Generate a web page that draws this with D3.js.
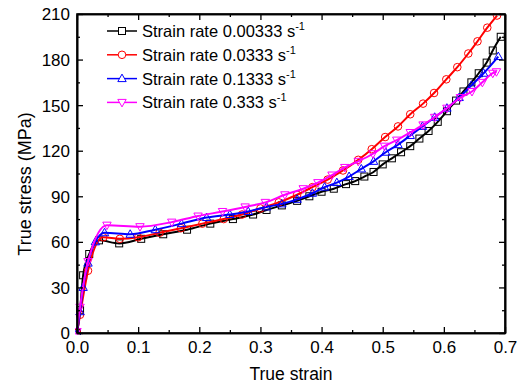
<!DOCTYPE html>
<html>
<head>
<meta charset="utf-8">
<script src="https://cdn.jsdelivr.net/npm/d3@7"></script>
<style>
  body { margin: 0; background: #fff; }
  svg text { font-family: "Liberation Sans", Arial, sans-serif; }
</style>
</head>
<body>
<div id="chart"></div>
<script>
// strain / stress pairs, one array per strain rate
var black = [[0,0],[0.005,15],[0.010,38],[0.02,52],[0.036,61],[0.069,59],[0.105,62],[0.141,65],[0.18,68],
  [0.218,72],[0.255,75],[0.288,78],[0.31,81],[0.335,84],[0.36,87],[0.38,90],[0.40,93],[0.42,95],[0.44,98],
  [0.455,100],[0.47,103],[0.485,106],[0.50,111],[0.515,115],[0.53,119],[0.545,123],[0.56,128],[0.575,133],
  [0.59,139],[0.605,146],[0.62,153],[0.632,159],[0.645,165],[0.657,171],[0.67,178],[0.68,186],[0.693,195]];
var red = [[0,0],[0.005,12],[0.018,41],[0.043,63],[0.07,62],[0.1,63],[0.135,66],[0.17,69],[0.205,72],
  [0.24,75],[0.27,78],[0.30,82],[0.33,86],[0.36,91],[0.385,96],[0.41,101],[0.435,107],[0.46,114],
  [0.482,121],[0.504,129],[0.525,136],[0.545,144],[0.566,151],[0.584,158],[0.604,167],[0.622,175],
  [0.64,184],[0.655,192],[0.671,201],[0.687,209]];
var blue = [[0,0],[0.005,14],[0.01,30],[0.018,46],[0.03,60],[0.045,66],[0.087,65],[0.128,68],[0.171,72],
  [0.212,76],[0.25,78],[0.28,80],[0.31,83],[0.335,85],[0.36,88],[0.385,92],[0.405,96],[0.425,99],
  [0.445,103],[0.465,108],[0.485,113],[0.505,119],[0.525,124],[0.545,130],[0.565,136],[0.585,142],
  [0.605,148],[0.625,155],[0.645,163],[0.665,171],[0.689,182]];
var magenta = [[0,1],[0.005,17],[0.018,47],[0.049,71],[0.103,70],[0.155,73],[0.198,77],[0.238,80],
  [0.275,83],[0.308,86],[0.34,91],[0.37,95],[0.394,99],[0.417,104],[0.438,109],[0.46,113],[0.484,118],
  [0.503,123],[0.523,127],[0.545,132],[0.566,137],[0.585,142],[0.605,148],[0.627,155],[0.646,159],
  [0.663,165],[0.68,171],[0.686,172]];

var seriesNames = ["Strain rate 0.00333 s", "Strain rate 0.0333 s", "Strain rate 0.1333 s", "Strain rate 0.333 s"];
var seriesColors = ["#000000", "#ff0000", "#0000ff", "#ff00ff"];
var seriesMarkers = ["square", "circle", "triangle", "down"];
var xTicks = [0, 0.1, 0.2, 0.3, 0.4, 0.5, 0.6, 0.7];
var yTicks = [0, 30, 60, 90, 120, 150, 180, 210];

var allSeries = [black, red, blue, magenta];

var margin = {top: 14, right: 16, bottom: 54, left: 77},
    width = 521 - margin.left - margin.right,
    height = 387 - margin.top - margin.bottom;

var svg = d3.select("#chart").append("svg")
    .attr("width", 521)
    .attr("height", 387)
  .append("g")
    .attr("transform", "translate(" + margin.left + "," + margin.top + ")");

var x = d3.scaleLinear().domain([0, 0.7]).range([0, width]);
var y = d3.scaleLinear().domain([0, 210]).range([height, 0]);

var line = d3.line()
    .x(function(d) { return x(d[0]); })
    .y(function(d) { return y(d[1]); })
    .curve(d3.curveMonotoneX);

svg.append("clipPath").attr("id", "clip")
  .append("rect").attr("x", -2).attr("y", -1).attr("width", width + 4).attr("height", height + 3);

var plot = svg.append("g").attr("clip-path", "url(#clip)");

function marker(g, type, color) {
  if (type === "square") {
    g.append("rect").attr("x", -3.5).attr("y", -3.5).attr("width", 7).attr("height", 7);
  } else if (type === "circle") {
    g.append("circle").attr("r", 3.8);
  } else if (type === "triangle") {
    g.append("path").attr("d", "M0,-4.5L4.2,3L-4.2,3Z");
  } else {
    g.append("path").attr("d", "M0,4.5L4.2,-3L-4.2,-3Z");
  }
  g.selectAll("*").attr("fill", "none").attr("stroke", color).attr("stroke-width", 1);
}

allSeries.forEach(function(data, i) {
  plot.append("path")
    .attr("d", line(data))
    .attr("fill", "none")
    .attr("stroke", seriesColors[i])
    .attr("stroke-width", 2);

  data.forEach(function(d) {
    var g = plot.append("g").attr("transform", "translate(" + x(d[0]) + "," + y(d[1]) + ")");
    marker(g, seriesMarkers[i], seriesColors[i]);
  });
});

// axes, with ticks pointing inward on all four sides
var xMinor = d3.range(0.05, 0.7, 0.1);
var yMinor = d3.range(15, 210, 30);

svg.append("g")
   .attr("transform", "translate(0," + height + ")")
   .call(d3.axisBottom(x).tickValues(xTicks).tickSizeInner(-6).tickSizeOuter(0).tickFormat(d3.format(".1f")))
   .call(function(g) {
     g.selectAll(".tick text").attr("dy", 0).attr("y", 20).style("font-size", "17px").attr("fill", "#000");
   });
svg.append("g")
   .attr("transform", "translate(0," + height + ")")
   .call(d3.axisBottom(x).tickValues(xMinor).tickSizeInner(-3).tickSizeOuter(0).tickFormat(""));

svg.append("g")
   .call(d3.axisTop(x).tickValues(xTicks).tickSizeInner(-6).tickSizeOuter(0).tickFormat(""));
svg.append("g")
   .call(d3.axisTop(x).tickValues(xMinor).tickSizeInner(-3).tickSizeOuter(0).tickFormat(""));

svg.append("g")
   .call(d3.axisLeft(y).tickValues(yTicks).tickSizeInner(-6).tickSizeOuter(0))
   .call(function(g) {
     g.selectAll(".tick text").attr("x", -7).attr("dy", "0.35em").style("font-size", "17px").attr("fill", "#000");
   });
svg.append("g")
   .call(d3.axisLeft(y).tickValues(yMinor).tickSizeInner(-3).tickSizeOuter(0).tickFormat(""));

svg.append("g")
   .attr("transform", "translate(" + width + ",0)")
   .call(d3.axisRight(y).tickValues(yTicks).tickSizeInner(-6).tickSizeOuter(0).tickFormat(""));
svg.append("g")
   .attr("transform", "translate(" + width + ",0)")
   .call(d3.axisRight(y).tickValues(yMinor).tickSizeInner(-3).tickSizeOuter(0).tickFormat(""));

svg.selectAll(".domain").attr("stroke", "#000").attr("stroke-width", 1.6);
svg.selectAll(".tick line").attr("stroke", "#000").attr("stroke-width", 1.3);

svg.append("rect")
   .attr("width", width).attr("height", height)
   .attr("fill", "none").attr("stroke", "#000").attr("stroke-width", 1.6);

// axis titles
svg.append("text")
   .attr("x", width / 2)
   .attr("y", height + 47)
   .attr("text-anchor", "middle")
   .style("font-size", "17.5px")
   .text("True strain");

svg.append("text")
   .attr("transform", "rotate(-90)")
   .attr("x", -(184 - margin.top))
   .attr("y", -46)
   .attr("text-anchor", "middle")
   .style("font-size", "18px")
   .text("True stress (MPa)");

// legend
var legend = svg.append("g").attr("transform", "translate(30,17)");
seriesNames.forEach(function(name, i) {
  var row = legend.append("g").attr("transform", "translate(0," + (i * 23.8) + ")");
  row.append("line")
     .attr("x1", 0).attr("x2", 30).attr("y1", 0).attr("y2", 0)
     .attr("stroke", seriesColors[i]).attr("stroke-width", 1.5);
  var m = row.append("g").attr("transform", "translate(15,0)");
  marker(m, seriesMarkers[i], seriesColors[i]);
  m.selectAll("*").attr("fill", "#fff");
  var t = row.append("text")
     .attr("x", 35).attr("y", 6)
     .style("font-size", "16.5px")
     .text(name);
  t.append("tspan")
     .attr("dy", -7)
     .style("font-size", "11px")
     .text("-1");
});
</script>
</body>
</html>
